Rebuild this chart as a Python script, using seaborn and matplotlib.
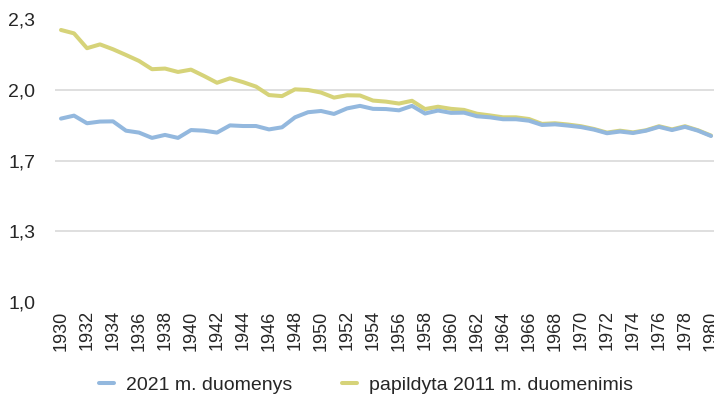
import matplotlib
matplotlib.use("Agg")
import matplotlib.pyplot as plt
import seaborn as sns
import pandas as pd

years = list(range(1930, 1981))

tfr_2021 = [
    1.865, 1.879, 1.843, 1.851, 1.852, 1.808, 1.799, 1.774, 1.788, 1.774,
    1.811, 1.808, 1.799, 1.833, 1.830, 1.830, 1.814, 1.824, 1.871, 1.895,
    1.901, 1.887, 1.913, 1.925, 1.911, 1.910, 1.904, 1.925, 1.889, 1.903,
    1.892, 1.893, 1.876, 1.871, 1.862, 1.862, 1.855, 1.835, 1.838, 1.832,
    1.825, 1.813, 1.796, 1.804, 1.797, 1.808, 1.826, 1.811, 1.826, 1.808,
    1.783,
]

tfr_2011 = [
    2.283, 2.267, 2.197, 2.215, 2.192, 2.165, 2.137, 2.098, 2.101, 2.085,
    2.096, 2.066, 2.034, 2.055, 2.037, 2.016, 1.976, 1.971, 2.003, 2.000,
    1.988, 1.964, 1.975, 1.974, 1.950, 1.945, 1.936, 1.949, 1.910, 1.921,
    1.911, 1.906, 1.888, 1.880, 1.871, 1.871, 1.863, 1.840, 1.843, 1.837,
    1.829, 1.816, 1.799, 1.808, 1.800, 1.810, 1.829, 1.814, 1.829, 1.810,
    1.785,
]

label_2021 = "2021 m. duomenys"
label_2011 = "papildyta 2011 m. duomenimis"

y_ticks = [1.0, 4 / 3, 5 / 3, 2.0, 7 / 3]
y_tick_labels = ["1,0", "1,3", "1,7", "2,0", "2,3"]
x_ticks = list(range(1930, 1981, 2))

sns.set_style("white")
plt.rcParams["font.family"] = ["Liberation Sans", "DejaVu Sans"]

blue = "#93b8de"
yellow = "#d6d379"

df_2021 = pd.DataFrame({"year": years, "value": tfr_2021})
df_2011 = pd.DataFrame({"year": years, "value": tfr_2011})

fig = plt.figure(figsize=(7.14, 4.01), dpi=100)
ax = fig.add_axes([54.5 / 714, 99 / 401, 663 / 714, 282.7 / 401])

sns.lineplot(data=df_2011, x="year", y="value", ax=ax, color=yellow,
             linewidth=2.9, label=label_2011, zorder=2)
sns.lineplot(data=df_2021, x="year", y="value", ax=ax, color=blue,
             linewidth=2.9, label=label_2021, zorder=3)

ax.set_xlim(1929.5, 1980.5)
ax.set_ylim(1.0, 7 / 3)
ax.set_yticks(y_ticks)
ax.set_yticklabels(y_tick_labels, fontsize=14)
ax.set_xticks(x_ticks)
ax.set_xticklabels([str(y) for y in x_ticks], rotation=90, fontsize=13)
ax.tick_params(axis="y", length=0, pad=14)
ax.tick_params(axis="x", length=0, pad=6)
ax.set_xlabel("")
ax.set_ylabel("")

for spine in ax.spines.values():
    spine.set_visible(False)

ax.yaxis.grid(True, color="#d9d9d9", linewidth=1.2)
ax.xaxis.grid(False)
ax.set_axisbelow(True)
gridlines = ax.yaxis.get_gridlines()
gridlines[0].set_visible(False)
gridlines[-1].set_visible(False)

handles, labels = ax.get_legend_handles_labels()
order = [labels.index(label_2021), labels.index(label_2011)]
ax.legend([handles[i] for i in order], [labels[i] for i in order],
          loc="center", bbox_to_anchor=(366 / 714, 16 / 401),
          bbox_transform=fig.transFigure, ncol=2, frameon=False,
          fontsize=14, handlelength=0.75, handletextpad=0.6,
          columnspacing=2.6)

fig.savefig("out.png", dpi=100)
